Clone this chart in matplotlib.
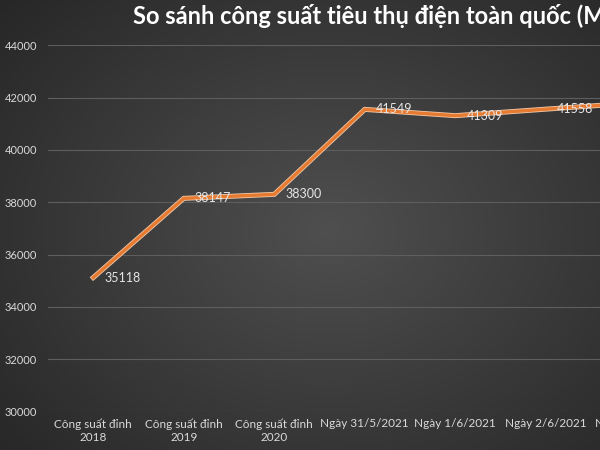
import matplotlib.pyplot as plt
import numpy as np

categories = ["Công suất đỉnh\n2018", "Công suất đỉnh\n2019", "Công suất đỉnh\n2020",
              "Ngày 31/5/2021", "Ngày 1/6/2021", "Ngày 2/6/2021", "Ngày 3/6/2021"]
values = [35118, 38147, 38300, 41549, 41309, 41558, 41800]
yticks = [30000, 32000, 34000, 36000, 38000, 40000, 42000, 44000]
title = "So sánh công suất tiêu thụ điện toàn quốc (MW)"

plt.rcParams['font.family'] = ['Lato', 'DejaVu Sans']

fig = plt.figure(figsize=(6, 4.5), dpi=100)

# radial gradient background like the Excel dark style
bg = fig.add_axes([0, 0, 1, 1])
yy, xx = np.mgrid[0:450, 0:600]
r = np.sqrt(((xx - 330) / 420.0) ** 2 + ((yy - 230) / 330.0) ** 2)
shade = np.clip(0.31 - 0.15 * r, 0.15, 0.31)
bg.imshow(np.dstack([shade] * 3), aspect='auto', extent=[0, 1, 0, 1])
bg.axis('off')

x = np.arange(len(categories))
ax = fig.add_axes([48 / 600, 38.6 / 450, 633.5 / 600, 366.1 / 450])
ax.patch.set_alpha(0)
ax.plot(x, values, color='#f0c8a8', lw=3.6, solid_joinstyle='miter', zorder=2)
ax.plot(x, values, color='#e57a30', lw=2.4, solid_joinstyle='miter', zorder=3)
for xi, v in zip(x, values):
    ax.annotate(str(v), (xi, v), xytext=(8, 0), textcoords='offset points',
                ha='left', va='center', color='#e6e6e6', fontsize=9, zorder=4)

ax.set_xlim(-0.5, len(categories) - 0.5)
ax.set_ylim(30000, 44000)
ax.set_yticks(yticks)
ax.set_xticks(x)
ax.set_xticklabels(categories, color='#d9d9d9', fontsize=8.5)
ax.tick_params(axis='y', colors='#d9d9d9', labelsize=8, length=0, pad=8)
ax.tick_params(axis='x', length=0, pad=5)
ax.grid(axis='y', color='#5e5e5e', lw=0.8)
ax.set_axisbelow(True)
for s in ax.spines.values():
    s.set_visible(False)

fig.text(385 / 600, 1 - 16 / 450, title, ha='center', va='center',
         color='white', fontsize=17, fontweight='bold')

fig.savefig('out.png', dpi=100)
